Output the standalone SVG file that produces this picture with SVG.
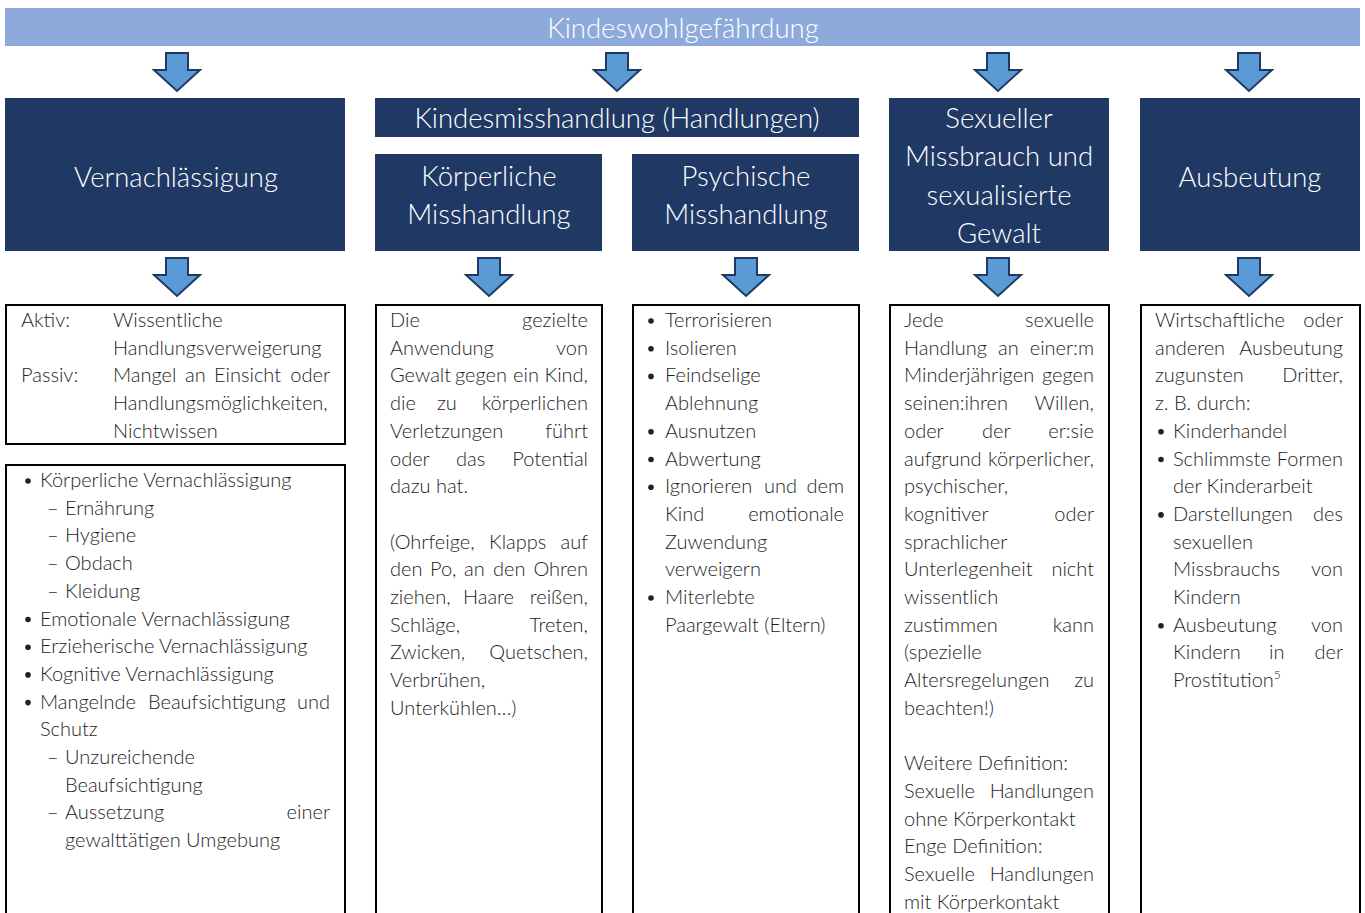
<svg xmlns="http://www.w3.org/2000/svg" width="1365" height="913" viewBox="0 0 1365 913">
<style>
.hdr{fill:#203864}
.box{fill:#fff;stroke:#000;stroke-width:2}
.ht{font-family:Lato,"Liberation Sans",sans-serif;font-weight:300;font-size:27.5px;fill:#fff;text-anchor:middle}
.t{font-family:Lato,"Liberation Sans",sans-serif;font-weight:300;font-size:20px;fill:#1e1e1e}
.r{text-anchor:end}
.dot{fill:#222}
.arr{fill:#5b9bd5;stroke:#203864;stroke-width:2;stroke-linejoin:miter}
</style>
<defs>
<path id="arrow" d="M-11,0 H11 V17 H23 L0,38 L-23,17 H-11 Z"/>
</defs>
<rect width="1365" height="913" fill="#fff"/>
<g id="banner">
<rect x="5" y="8" width="1355" height="38" fill="#8eaadb"/>
<text x="683" y="38" class="ht">Kindeswohlgefährdung</text>
</g>
<g id="connectors">
<use href="#arrow" class="arr" x="177" y="53"/>
<use href="#arrow" class="arr" x="617" y="53"/>
<use href="#arrow" class="arr" x="998" y="53"/>
<use href="#arrow" class="arr" x="1249" y="53"/>
<use href="#arrow" class="arr" x="177" y="258"/>
<use href="#arrow" class="arr" x="489" y="258"/>
<use href="#arrow" class="arr" x="746" y="258"/>
<use href="#arrow" class="arr" x="998" y="258"/>
<use href="#arrow" class="arr" x="1249" y="258"/>
</g>
<g id="node-vernachlaessigung">
<rect x="5" y="98" width="340" height="153" class="hdr"/>
<text x="176" y="187" class="ht">Vernachlässigung</text>
</g>
<g id="node-kindesmisshandlung">
<rect x="375" y="98" width="484" height="39" class="hdr"/>
<text x="617" y="128" class="ht">Kindesmisshandlung (Handlungen)</text>
</g>
<g id="node-koerperliche">
<rect x="375" y="154" width="227" height="97" class="hdr"/>
<text class="ht"><tspan x="489" y="186">Körperliche</tspan><tspan x="489" y="224">Misshandlung</tspan></text>
</g>
<g id="node-psychische">
<rect x="632" y="154" width="227" height="97" class="hdr"/>
<text class="ht"><tspan x="746" y="186">Psychische</tspan><tspan x="746" y="224">Misshandlung</tspan></text>
</g>
<g id="node-sexueller">
<rect x="889" y="98" width="220" height="153" class="hdr"/>
<text class="ht"><tspan x="999" y="128">Sexueller</tspan><tspan x="999" y="166">Missbrauch und</tspan><tspan x="999" y="205">sexualisierte</tspan><tspan x="999" y="243">Gewalt</tspan></text>
</g>
<g id="node-ausbeutung">
<rect x="1140" y="98" width="220" height="153" class="hdr"/>
<text x="1250" y="187" class="ht">Ausbeutung</text>
</g>
<g id="node-vern-def">
<rect x="6" y="305" width="339" height="139" class="box"/>
<text class="t" x="21" y="327">Aktiv:</text><text class="t" x="113" y="327">Wissentliche</text>
<text class="t" x="113" y="355">Handlungsverweigerung</text>
<text class="t" x="21" y="382">Passiv:</text><text class="t" x="113" y="382">Mangel</text><text class="t" x="185" y="382">an</text><text class="t" x="214" y="382">Einsicht</text><text class="t r" x="330" y="382">oder</text>
<text class="t" x="113" y="410">Handlungsmöglichkeiten,</text>
<text class="t" x="113" y="438">Nichtwissen</text>
</g>
<g id="node-vern-list">
<rect x="6" y="465" width="339" height="460" class="box"/>
<circle class="dot" cx="28" cy="481" r="2.8"/><text class="t" x="40" y="487">Körperliche Vernachlässigung</text>
<text class="t" x="47" y="514.7">–</text><text class="t" x="65" y="514.7">Ernährung</text>
<text class="t" x="47" y="542.4">–</text><text class="t" x="65" y="542.4">Hygiene</text>
<text class="t" x="47" y="570.1">–</text><text class="t" x="65" y="570.1">Obdach</text>
<text class="t" x="47" y="597.8">–</text><text class="t" x="65" y="597.8">Kleidung</text>
<circle class="dot" cx="28" cy="619.5" r="2.8"/><text class="t" x="40" y="625.5">Emotionale Vernachlässigung</text>
<circle class="dot" cx="28" cy="647.2" r="2.8"/><text class="t" x="40" y="653.2">Erzieherische Vernachlässigung</text>
<circle class="dot" cx="28" cy="674.9" r="2.8"/><text class="t" x="40" y="680.9">Kognitive Vernachlässigung</text>
<circle class="dot" cx="28" cy="702.6" r="2.8"/><text class="t" x="40" y="708.6">Mangelnde</text><text class="t" x="148" y="708.6">Beaufsichtigung</text><text class="t r" x="330" y="708.6">und</text>
<text class="t" x="40" y="736.3">Schutz</text>
<text class="t" x="47" y="764">–</text><text class="t" x="65" y="764">Unzureichende</text>
<text class="t" x="65" y="791.7">Beaufsichtigung</text>
<text class="t" x="47" y="819.4">–</text><text class="t" x="65" y="819.4">Aussetzung</text><text class="t r" x="330" y="819.4">einer</text>
<text class="t" x="65" y="847.1">gewalttätigen Umgebung</text>
</g>
<g id="node-koerperliche-text">
<rect x="376" y="305" width="226" height="620" class="box"/>
<text class="t" x="390" y="327">Die</text><text class="t r" x="588" y="327">gezielte</text>
<text class="t" x="390" y="354.7">Anwendung</text><text class="t r" x="588" y="354.7">von</text>
<text class="t" x="390" y="382.4">Gewalt</text><text class="t" x="455" y="382.4">gegen</text><text class="t" x="513" y="382.4">ein</text><text class="t r" x="588" y="382.4">Kind,</text>
<text class="t" x="390" y="410.1">die</text><text class="t" x="437" y="410.1">zu</text><text class="t r" x="588" y="410.1">körperlichen</text>
<text class="t" x="390" y="437.8">Verletzungen</text><text class="t r" x="588" y="437.8">führt</text>
<text class="t" x="390" y="465.5">oder</text><text class="t" x="456" y="465.5">das</text><text class="t r" x="588" y="465.5">Potential</text>
<text class="t" x="390" y="493.2">dazu hat.</text>
<text class="t" x="390" y="548.6">(Ohrfeige,</text><text class="t" x="489" y="548.6">Klapps</text><text class="t r" x="588" y="548.6">auf</text>
<text class="t" x="390" y="576.3">den</text><text class="t" x="430" y="576.3">Po,</text><text class="t" x="464" y="576.3">an</text><text class="t" x="493" y="576.3">den</text><text class="t r" x="588" y="576.3">Ohren</text>
<text class="t" x="390" y="604">ziehen,</text><text class="t" x="463" y="604">Haare</text><text class="t r" x="588" y="604">reißen,</text>
<text class="t" x="390" y="631.7">Schläge,</text><text class="t r" x="588" y="631.7">Treten,</text>
<text class="t" x="390" y="659.4">Zwicken,</text><text class="t r" x="588" y="659.4">Quetschen,</text>
<text class="t" x="390" y="687.1">Verbrühen,</text>
<text class="t" x="390" y="714.8">Unterkühlen…)</text>
</g>
<g id="node-psychische-text">
<rect x="633" y="305" width="226" height="620" class="box"/>
<circle class="dot" cx="651" cy="321" r="2.8"/><text class="t" x="665" y="327">Terrorisieren</text>
<circle class="dot" cx="651" cy="348.7" r="2.8"/><text class="t" x="665" y="354.7">Isolieren</text>
<circle class="dot" cx="651" cy="376.4" r="2.8"/><text class="t" x="665" y="382.4">Feindselige</text>
<text class="t" x="665" y="410.1">Ablehnung</text>
<circle class="dot" cx="651" cy="431.8" r="2.8"/><text class="t" x="665" y="437.8">Ausnutzen</text>
<circle class="dot" cx="651" cy="459.5" r="2.8"/><text class="t" x="665" y="465.5">Abwertung</text>
<circle class="dot" cx="651" cy="487.2" r="2.8"/><text class="t" x="665" y="493.2">Ignorieren</text><text class="t" x="764" y="493.2">und</text><text class="t r" x="844" y="493.2">dem</text>
<text class="t" x="665" y="520.9">Kind</text><text class="t r" x="844" y="520.9">emotionale</text>
<text class="t" x="665" y="548.6">Zuwendung</text>
<text class="t" x="665" y="576.3">verweigern</text>
<circle class="dot" cx="651" cy="598" r="2.8"/><text class="t" x="665" y="604">Miterlebte</text>
<text class="t" x="665" y="631.7">Paargewalt (Eltern)</text>
</g>
<g id="node-sexueller-text">
<rect x="890" y="305" width="219" height="620" class="box"/>
<text class="t" x="904" y="327">Jede</text><text class="t r" x="1094" y="327">sexuelle</text>
<text class="t" x="904" y="354.7">Handlung</text><text class="t" x="998" y="354.7">an</text><text class="t r" x="1094" y="354.7">einer:m</text>
<text class="t" x="904" y="382.4">Minderjährigen</text><text class="t r" x="1094" y="382.4">gegen</text>
<text class="t" x="904" y="410.1">seinen:ihren</text><text class="t r" x="1094" y="410.1">Willen,</text>
<text class="t" x="904" y="437.8">oder</text><text class="t" x="982" y="437.8">der</text><text class="t r" x="1094" y="437.8">er:sie</text>
<text class="t" x="904" y="465.5">aufgrund</text><text class="t r" x="1094" y="465.5">körperlicher,</text>
<text class="t" x="904" y="493.2">psychischer,</text>
<text class="t" x="904" y="520.9">kognitiver</text><text class="t r" x="1094" y="520.9">oder</text>
<text class="t" x="904" y="548.6">sprachlicher</text>
<text class="t" x="904" y="576.3">Unterlegenheit</text><text class="t r" x="1094" y="576.3">nicht</text>
<text class="t" x="904" y="604">wissentlich</text>
<text class="t" x="904" y="631.7">zustimmen</text><text class="t r" x="1094" y="631.7">kann</text>
<text class="t" x="904" y="659.4">(spezielle</text>
<text class="t" x="904" y="687.1">Altersregelungen</text><text class="t r" x="1094" y="687.1">zu</text>
<text class="t" x="904" y="714.8">beachten!)</text>
<text class="t" x="904" y="770.2">Weitere Definition:</text>
<text class="t" x="904" y="797.9">Sexuelle</text><text class="t r" x="1094" y="797.9">Handlungen</text>
<text class="t" x="904" y="825.6">ohne Körperkontakt</text>
<text class="t" x="904" y="853.3">Enge Definition:</text>
<text class="t" x="904" y="881">Sexuelle</text><text class="t r" x="1094" y="881">Handlungen</text>
<text class="t" x="904" y="908.7">mit Körperkontakt</text>
</g>
<g id="node-ausbeutung-text">
<rect x="1141" y="305" width="219" height="620" class="box"/>
<text class="t" x="1155" y="327">Wirtschaftliche</text><text class="t r" x="1343" y="327">oder</text>
<text class="t" x="1155" y="354.7">anderen</text><text class="t r" x="1343" y="354.7">Ausbeutung</text>
<text class="t" x="1155" y="382.4">zugunsten</text><text class="t r" x="1343" y="382.4">Dritter,</text>
<text class="t" x="1155" y="410.1">z. B. durch:</text>
<circle class="dot" cx="1161" cy="431.8" r="2.8"/><text class="t" x="1173" y="437.8">Kinderhandel</text>
<circle class="dot" cx="1161" cy="459.5" r="2.8"/><text class="t" x="1173" y="465.5">Schlimmste</text><text class="t r" x="1343" y="465.5">Formen</text>
<text class="t" x="1173" y="493.2">der Kinderarbeit</text>
<circle class="dot" cx="1161" cy="514.9" r="2.8"/><text class="t" x="1173" y="520.9">Darstellungen</text><text class="t r" x="1343" y="520.9">des</text>
<text class="t" x="1173" y="548.6">sexuellen</text>
<text class="t" x="1173" y="576.3">Missbrauchs</text><text class="t r" x="1343" y="576.3">von</text>
<text class="t" x="1173" y="604">Kindern</text>
<circle class="dot" cx="1161" cy="625.7" r="2.8"/><text class="t" x="1173" y="631.7">Ausbeutung</text><text class="t r" x="1343" y="631.7">von</text>
<text class="t" x="1173" y="659.4">Kindern</text><text class="t" x="1269" y="659.4">in</text><text class="t r" x="1343" y="659.4">der</text>
<text class="t" x="1173" y="687.1">Prostitution<tspan font-size="12" dy="-8">5</tspan></text>
</g>
</svg>
